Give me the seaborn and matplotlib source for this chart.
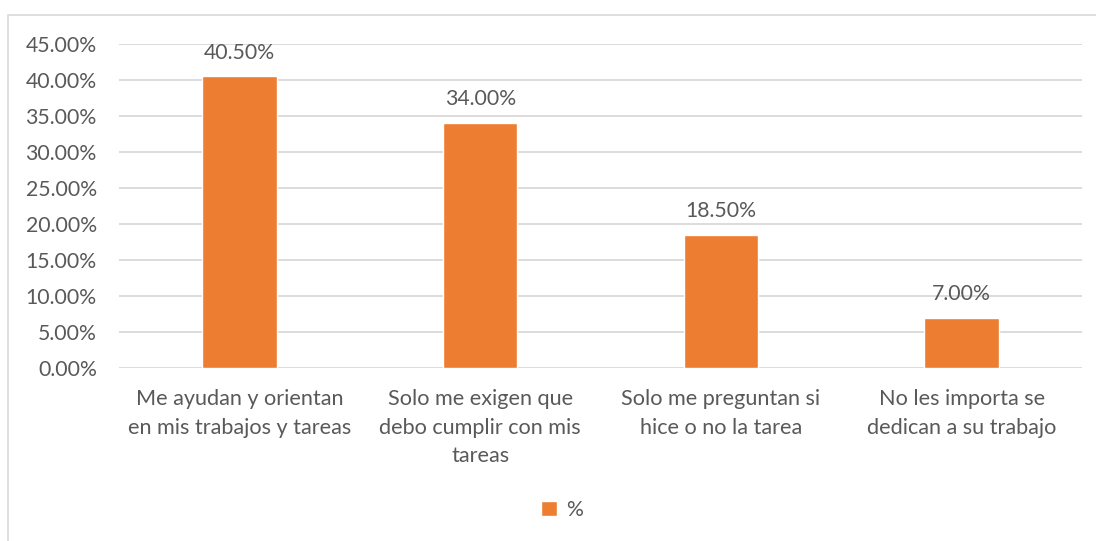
import matplotlib
matplotlib.use("Agg")
import matplotlib.pyplot as plt
import seaborn as sns
import pandas as pd
from matplotlib.ticker import FuncFormatter, MultipleLocator
from matplotlib.patches import Rectangle

categories = [
    "Me ayudan y orientan\nen mis trabajos y tareas",
    "Solo me exigen que\ndebo cumplir con mis\ntareas",
    "Solo me preguntan si\nhice o no la tarea",
    "No les importa se\ndedican a su trabajo",
]
values = [0.405, 0.34, 0.185, 0.07]
series_name = "%"

sns.set_theme(style="white")
plt.rcParams['font.family'] = ['Lato', 'DejaVu Sans']

TXT = "#595959"
BAR = "#ED7D31"
GRID = "#D9D9D9"
FS = 15.6

df = pd.DataFrame({"cat": categories, "val": values, "series": series_name})

fig = plt.figure(figsize=(10.96, 5.41), dpi=100)
ax = fig.add_axes([119/1096, 1-368/541, (1082-119)/1096, (368-44)/541])

sns.barplot(data=df, x="cat", y="val", hue="series", palette=[BAR],
            width=0.31, ax=ax, saturation=1)

ax.set_ylim(0, 0.45)
ax.yaxis.set_major_locator(MultipleLocator(0.05))
ax.yaxis.set_major_formatter(FuncFormatter(lambda v, p: f"{v*100:.2f}%"))
ax.set_xlim(-0.5, 3.5)
ax.grid(axis="y", color=GRID, linewidth=1.3)
ax.set_axisbelow(True)
for s in ax.spines.values():
    s.set_visible(False)
ax.set_xlabel("")
ax.set_ylabel("")
ax.tick_params(axis="both", length=0, colors=TXT, labelsize=FS)
ax.tick_params(axis="y", labelsize=15.3)
ax.tick_params(axis="x", pad=15)
ax.tick_params(axis="y", pad=16)
for lbl in ax.get_xticklabels():
    lbl.set_linespacing(1.55)

for cont in ax.containers:
    ax.bar_label(cont, labels=[f"{v*100:.2f}%" for v in cont.datavalues],
                 padding=10, color=TXT, fontsize=15.3)

leg = ax.legend(loc="center", bbox_to_anchor=(562/1096, 1-510/541),
                bbox_transform=fig.transFigure, frameon=False,
                fontsize=15.3, handlelength=0.75, handleheight=0.75,
                handletextpad=0.4)
for t in leg.get_texts():
    t.set_color(TXT)

fig.patches.append(Rectangle((8/1096, -0.1), 1.2, 1-15/541+0.1,
                             transform=fig.transFigure, fill=False,
                             edgecolor=GRID, linewidth=1.2, zorder=0))

fig.savefig("out.png", dpi=100, facecolor="white")
